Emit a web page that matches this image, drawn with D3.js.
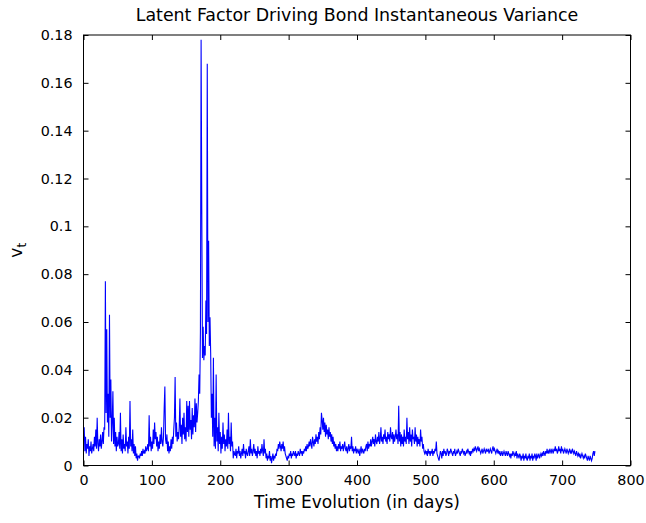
<!DOCTYPE html>
<html>
<head>
<meta charset="utf-8">
<script src="https://cdn.jsdelivr.net/npm/d3@7"></script>
<style>
  html, body { margin: 0; padding: 0; background: #fff; }
  svg { display: block; }
  text { font-family: "DejaVu Sans", sans-serif; fill: #000; }
</style>
</head>
<body>
<svg id="chart" width="646" height="523"></svg>
<script>
// ---- Data ----
const titleText = "Latent Factor Driving Bond Instantaneous Variance";
const xLabelText = "Time Evolution (in days)";
const xTicks = [0, 100, 200, 300, 400, 500, 600, 700, 800];
const yTicks = [0, 0.02, 0.04, 0.06, 0.08, 0.1, 0.12, 0.14, 0.16, 0.18];
const yTickLabels = ["0", "0.02", "0.04", "0.06", "0.08", "0.1", "0.12", "0.14", "0.16", "0.18"];
const firstDay = 1;
// latent variance v_t, one value per day starting at day 1
const vt = [
.016,.006,.012,.005,.009,.007,.011,.004,.008,.006,
.010,.005,.007,.009,.006,.012,.008,.015,.007,.020,
.009,.006,.011,.008,.013,.007,.010,.014,.009,.016,
.015,.077,.022,.057,.018,.030,.012,.063,.020,.036,
.010,.018,.031,.009,.020,.008,.014,.006,.012,.008,
.009,.014,.007,.022,.006,.011,.005,.013,.007,.009,
.006,.016,.008,.010,.005,.012,.007,.027,.008,.011,
.006,.015,.005,.009,.004,.008,.003,.005,.002,.004,
.004,.003,.005,.004,.006,.004,.007,.005,.006,.005,
.008,.006,.007,.009,.006,.021,.008,.012,.006,.010,
.007,.015,.009,.018,.011,.014,.008,.012,.006,.010,
.007,.013,.009,.016,.010,.008,.012,.024,.033,.011,
.009,.013,.006,.010,.005,.008,.006,.011,.007,.012,
.009,.015,.020,.037,.012,.018,.010,.014,.011,.016,
.028,.012,.017,.009,.020,.013,.022,.011,.016,.010,
.027,.014,.025,.012,.027,.015,.019,.011,.024,.013,
.021,.016,.028,.014,.026,.018,.022,.027,.038,.030,
.056,.178,.107,.045,.058,.044,.050,.046,.069,.055,
.168,.060,.094,.050,.062,.047,.020,.030,.012,.045,
.008,.020,.007,.038,.010,.016,.006,.022,.009,.014,
.005,.012,.007,.018,.009,.013,.006,.011,.008,.015,
.007,.022,.009,.012,.006,.018,.008,.010,.003,.006,
.005,.004,.007,.003,.006,.005,.008,.004,.006,.003,
.005,.007,.004,.009,.005,.006,.003,.007,.005,.004,
.006,.008,.004,.011,.005,.007,.004,.006,.009,.005,
.007,.004,.006,.003,.008,.005,.006,.004,.007,.005,
.009,.006,.004,.011,.005,.007,.003,.005,.002,.004,
.003,.006,.002,.004,.001,.003,.005,.002,.004,.003,
.005,.004,.007,.006,.009,.007,.010,.008,.006,.009,
.007,.010,.006,.008,.005,.004,.003,.002,.004,.003,
.005,.004,.006,.003,.005,.004,.006,.005,.004,.006,
.003,.005,.004,.006,.005,.004,.007,.005,.006,.004,
.006,.005,.007,.006,.008,.006,.009,.007,.008,.010,
.008,.011,.009,.007,.012,.010,.008,.011,.009,.013,
.010,.012,.009,.014,.011,.016,.013,.022,.019,.015,
.020,.014,.018,.012,.017,.013,.015,.011,.016,.012,
.014,.010,.013,.009,.012,.008,.010,.007,.009,.006,
.008,.006,.009,.007,.010,.006,.008,.007,.009,.006,
.008,.010,.007,.006,.008,.005,.007,.009,.006,.008,
.007,.012,.006,.008,.005,.007,.006,.008,.005,.007,
.006,.005,.007,.004,.006,.008,.005,.007,.006,.005,
.007,.006,.008,.009,.006,.010,.007,.009,.008,.011,
.008,.010,.012,.009,.011,.008,.013,.010,.009,.012,
.010,.014,.009,.011,.016,.010,.012,.009,.013,.011,
.015,.010,.012,.009,.014,.011,.013,.010,.016,.012,
.011,.014,.009,.013,.010,.012,.015,.011,.013,.009,
.025,.010,.014,.008,.013,.009,.012,.008,.015,.010,
.012,.009,.020,.011,.014,.009,.016,.010,.013,.008,
.015,.011,.012,.009,.016,.010,.013,.008,.012,.009,
.011,.008,.015,.010,.012,.007,.009,.006,.005,.006,
.005,.006,.004,.007,.005,.006,.004,.006,.005,.007,
.004,.006,.005,.007,.006,.010,.005,.004,.003,.002,
.004,.006,.005,.003,.006,.004,.007,.005,.006,.004,
.005,.007,.006,.004,.006,.005,.007,.006,.005,.004,
.006,.005,.007,.004,.005,.006,.005,.007,.006,.005,
.004,.006,.005,.007,.006,.005,.006,.004,.005,.006,
.005,.007,.006,.005,.006,.004,.006,.005,.007,.006,
.007,.006,.008,.007,.006,.007,.008,.006,.007,.006,
.005,.006,.007,.005,.006,.007,.006,.005,.007,.006,
.006,.007,.005,.006,.007,.006,.005,.007,.008,.006,
.007,.006,.005,.006,.007,.005,.006,.005,.006,.004,
.005,.006,.004,.005,.006,.005,.004,.006,.005,.004,
.006,.005,.004,.005,.003,.005,.004,.006,.005,.004,
.005,.004,.006,.003,.005,.004,.003,.005,.004,.002,
.004,.003,.005,.002,.004,.003,.005,.003,.002,.004,
.003,.005,.002,.004,.003,.005,.002,.004,.003,.005,
.004,.002,.005,.003,.004,.005,.003,.004,.005,.004,
.005,.004,.006,.005,.004,.006,.005,.007,.005,.006,
.005,.007,.006,.005,.007,.006,.005,.007,.006,.008,
.006,.007,.005,.006,.008,.006,.007,.005,.008,.006,
.007,.005,.006,.007,.006,.005,.007,.006,.005,.006,
.007,.005,.006,.005,.007,.006,.005,.006,.005,.004,
.006,.005,.004,.005,.004,.005,.003,.004,.005,.004,
.003,.004,.003,.005,.004,.003,.002,.004,.003,.002,
.004,.003,.002,.003,.005,.006,.004,.006
];

// ---- Layout ----
const svg = d3.select("#chart");
const mLeft = 83.5, mRight = 630.5, mTop = 35, mBottom = 465.5;
const tickLen = 5;

const x = d3.scaleLinear().domain([0, 800]).range([mLeft, mRight]);
const y = d3.scaleLinear().domain([0, 0.18]).range([mBottom, mTop]);

svg.append("clipPath").attr("id", "clip")
  .append("rect").attr("x", mLeft).attr("y", mTop)
  .attr("width", mRight - mLeft).attr("height", mBottom - mTop);

const line = d3.line()
  .x((d, i) => x(firstDay + i))
  .y(d => y(d));

svg.append("path")
  .datum(vt)
  .attr("clip-path", "url(#clip)")
  .attr("fill", "none")
  .attr("stroke", "#0000ff")
  .attr("stroke-width", 1.1)
  .attr("d", line);

const fmtY = d => yTickLabels[yTicks.indexOf(d)];
const axisStyle = g => {
  g.select(".domain").remove();
  g.selectAll(".tick line").attr("stroke", "#000").attr("stroke-width", 1);
  g.selectAll(".tick text").style("font-family", "'DejaVu Sans', sans-serif")
    .style("font-size", "14.3px").attr("fill", "#000");
};

svg.append("g").attr("transform", `translate(0,${mBottom})`)
  .call(d3.axisBottom(x).tickValues(xTicks).tickSizeInner(-tickLen).tickSizeOuter(0).tickPadding(9).tickFormat(d3.format("d")))
  .call(axisStyle)
  .call(g => g.selectAll(".tick text").attr("dy", "0.71em"));

svg.append("g").attr("transform", `translate(0,${mTop})`)
  .call(d3.axisTop(x).tickValues(xTicks).tickSizeInner(-tickLen).tickSizeOuter(0).tickFormat(""))
  .call(axisStyle);

svg.append("g").attr("transform", `translate(${mLeft},0)`)
  .call(d3.axisLeft(y).tickValues(yTicks).tickSizeInner(-tickLen).tickSizeOuter(0).tickPadding(11).tickFormat(fmtY))
  .call(axisStyle);

svg.append("g").attr("transform", `translate(${mRight},0)`)
  .call(d3.axisRight(y).tickValues(yTicks).tickSizeInner(-tickLen).tickSizeOuter(0).tickFormat(""))
  .call(axisStyle);

svg.append("rect")
  .attr("x", mLeft).attr("y", mTop)
  .attr("width", mRight - mLeft).attr("height", mBottom - mTop)
  .attr("fill", "none").attr("stroke", "#000").attr("stroke-width", 1);

svg.append("text")
  .attr("x", (mLeft + mRight) / 2).attr("y", 21)
  .attr("text-anchor", "middle")
  .style("font-size", "17.4px")
  .text(titleText);

svg.append("text")
  .attr("x", (mLeft + mRight) / 2).attr("y", 508)
  .attr("text-anchor", "middle")
  .style("font-size", "17px")
  .text(xLabelText);

const yl = svg.append("text")
  .attr("transform", `translate(22,${(mTop + mBottom) / 2}) rotate(-90)`)
  .attr("text-anchor", "middle")
  .style("font-size", "17px");
yl.append("tspan").text("v");
yl.append("tspan").attr("dy", "0.3em").style("font-size", "12px").text("t");
</script>
</body>
</html>
